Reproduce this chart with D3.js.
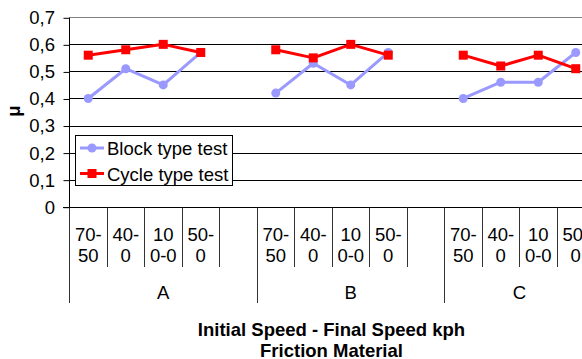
<!DOCTYPE html>
<html>
<head>
<meta charset="utf-8">
<script src="https://cdn.jsdelivr.net/npm/d3@7"></script>
<style>
  html, body { margin: 0; padding: 0; background: #fff; }
  svg { display: block; font-family: Arial, "Liberation Sans", sans-serif; }
</style>
</head>
<body>
<div id="chart"></div>
<script>
// values
const groups = ['A', 'B', 'C'];
const speedLabels = [['70-', '50'], ['40-', '0'], ['10', '0-0'], ['50-', '0']];
const blockValues = [
  [0.40, 0.51, 0.45, 0.57],
  [0.42, 0.53, 0.45, 0.57],
  [0.40, 0.46, 0.46, 0.57]
];
const cycleValues = [
  [0.56, 0.58, 0.60, 0.57],
  [0.58, 0.55, 0.60, 0.56],
  [0.56, 0.52, 0.56, 0.51]
];
const yTicks = [0, 0.1, 0.2, 0.3, 0.4, 0.5, 0.6, 0.7];
const yTickLabels = ['0', '0,1', '0,2', '0,3', '0,4', '0,5', '0,6', '0,7'];
const seriesNames = ['Block type test', 'Cycle type test'];

class FrictionChart {
  constructor(width, height) {
    this.size = { width: width, height: height };
    this.plot = { left: 69, right: 594, top: 17.3, bottom: 206.7 };
    this.color = { block: '#9999ff', cycle: '#ff0000' };
    this.font = '18.5px';
    this.svg = null;
    this.x = null;
    this.y = null;
  }

  buildKeys() {
    // every group has 4 speeds and an empty slot, the last one has no trailing gap
    let keys = [];
    groups.forEach((g, gi) => {
      speedLabels.forEach((s, si) => keys.push(`${g}|${si}`));
      if (gi < groups.length - 1) keys.push(`${g}|gap`);
    });
    return keys;
  }

  createScales() {
    this.keys = this.buildKeys();
    this.x = d3.scaleBand().domain(this.keys).range([this.plot.left, this.plot.right]);
    this.y = d3.scaleLinear().domain([0, 0.7]).range([this.plot.bottom, this.plot.top]);
  }

  drawGrid() {
    const g = this.svg.append('g');
    g.selectAll('line')
      .data(yTicks.slice(1))
      .enter()
      .append('line')
      .attr('x1', this.plot.left)
      .attr('x2', this.plot.right)
      .attr('y1', d => Math.round(this.y(d)) + 0.5)
      .attr('y2', d => Math.round(this.y(d)) + 0.5)
      .attr('stroke', d => d === 0.7 ? '#808080' : '#000')
      .attr('stroke-width', 1);
  }

  drawAxes() {
    const yAxis = d3.axisLeft(this.y)
      .tickValues(yTicks)
      .tickSize(6)
      .tickPadding(8.5)
      .tickFormat((d, i) => yTickLabels[i]);

    const ga = this.svg.append('g')
      .attr('transform', `translate(${this.plot.left + 0.5},0.5)`)
      .call(yAxis);
    ga.select('.domain').attr('d', `M0,${this.plot.top}V${this.plot.bottom}`).attr('stroke', '#000');
    ga.selectAll('.tick line').attr('stroke', '#000');
    ga.selectAll('.tick text')
      .attr('font-size', this.font)
      .attr('font-family', 'Arial, "Liberation Sans", sans-serif')
      .attr('fill', '#000');

    // baseline of the category axis
    const y0 = Math.round(this.y(0)) + 0.5;
    this.svg.append('line')
      .attr('x1', this.plot.left - 6).attr('x2', this.plot.right)
      .attr('y1', y0).attr('y2', y0)
      .attr('stroke', '#000');

    // separators between categories, longer ones between groups
    const step = this.x.step();
    const bounds = this.keys.map(k => this.x(k)).concat([this.plot.right]);
    this.svg.append('g').selectAll('line')
      .data(bounds)
      .enter()
      .append('line')
      .attr('x1', d => Math.round(d) + 0.5)
      .attr('x2', d => Math.round(d) + 0.5)
      .attr('y1', y0)
      .attr('y2', (d, i) => {
        const k = this.keys[i];
        const isGroupStart = i === this.keys.length || (k && k.endsWith('|0'));
        return isGroupStart ? 303 : 267;
      })
      .attr('stroke', '#333');

    // two-line speed labels
    const labels = this.svg.append('g')
      .attr('font-size', this.font)
      .attr('text-anchor', 'middle')
      .attr('fill', '#000');
    groups.forEach(g => {
      speedLabels.forEach((lines, si) => {
        const cx = this.x(`${g}|${si}`) + this.x.bandwidth() / 2 + 0.5;
        const t = labels.append('text');
        lines.forEach((line, li) => {
          t.append('tspan').attr('x', cx).attr('y', 240.5 + li * 21.5).text(line);
        });
      });
    });

    // group names
    groups.forEach(g => {
      const first = this.x(`${g}|0`);
      const last = this.x(`${g}|${speedLabels.length - 1}`) + step;
      const end = this.keys.includes(`${g}|gap`) ? last + step : last;
      labels.append('text')
        .attr('x', (first + end) / 2 + 0.5)
        .attr('y', 298.5)
        .text(g);
    });

    // titles
    const cx = (this.plot.left + this.plot.right) / 2;
    const title = this.svg.append('text')
      .attr('font-size', this.font)
      .attr('font-weight', 'bold')
      .attr('text-anchor', 'middle');
    title.append('tspan').attr('x', cx).attr('y', 335.5).text('Initial Speed - Final Speed kph');
    title.append('tspan').attr('x', cx).attr('y', 356.5).text('Friction Material');

    this.svg.append('text')
      .attr('transform', 'translate(20,111) rotate(-90)')
      .attr('font-size', this.font)
      .attr('font-weight', 'bold')
      .attr('text-anchor', 'middle')
      .text('\u03bc');
  }

  drawSeries(values, color, marker) {
    const cx = (g, i) => this.x(`${g}|${i}`) + this.x.bandwidth() / 2 + 0.5;
    const line = d3.line()
      .x(d => d.x)
      .y(d => this.y(d.v));

    groups.forEach((g, gi) => {
      const pts = values[gi].map((v, i) => ({ x: cx(g, i), v: v }));
      this.svg.append('path')
        .datum(pts)
        .attr('d', line)
        .attr('fill', 'none')
        .attr('stroke', color)
        .attr('stroke-width', 3)
        .attr('stroke-linejoin', 'round');

      if (marker === 'circle') {
        this.svg.append('g').selectAll('circle')
          .data(pts)
          .enter()
          .append('circle')
          .attr('cx', d => d.x)
          .attr('cy', d => this.y(d.v))
          .attr('r', 4.5)
          .attr('fill', color);
      } else {
        this.svg.append('g').selectAll('rect')
          .data(pts)
          .enter()
          .append('rect')
          .attr('x', d => d.x - 4.5)
          .attr('y', d => this.y(d.v) - 4.5)
          .attr('width', 9)
          .attr('height', 9)
          .attr('fill', color);
      }
    });
  }

  drawLegend() {
    const lg = this.svg.append('g');
    lg.append('rect')
      .attr('x', 75.5).attr('y', 135.5)
      .attr('width', 157).attr('height', 50)
      .attr('fill', '#fff')
      .attr('stroke', '#000');

    const rows = [
      { name: seriesNames[0], color: this.color.block, marker: 'circle', y: 148 },
      { name: seriesNames[1], color: this.color.cycle, marker: 'square', y: 173.5 }
    ];
    rows.forEach(r => {
      lg.append('line')
        .attr('x1', 80).attr('x2', 104)
        .attr('y1', r.y).attr('y2', r.y)
        .attr('stroke', r.color)
        .attr('stroke-width', 3);
      if (r.marker === 'circle') {
        lg.append('circle').attr('cx', 92).attr('cy', r.y).attr('r', 4.5).attr('fill', r.color);
      } else {
        lg.append('rect').attr('x', 87.5).attr('y', r.y - 4.5).attr('width', 9).attr('height', 9).attr('fill', r.color);
      }
      lg.append('text')
        .attr('x', 107)
        .attr('y', r.y + 7)
        .attr('font-size', this.font)
        .text(r.name);
    });
  }

  render(holderId) {
    this.svg = d3.select(holderId)
      .append('svg')
      .attr('width', this.size.width)
      .attr('height', this.size.height);

    this.createScales();
    this.drawGrid();
    this.drawAxes();
    this.drawSeries(blockValues, this.color.block, 'circle');
    this.drawSeries(cycleValues, this.color.cycle, 'square');
    this.drawLegend();
  }
}

new FrictionChart(582, 359).render('#chart');
</script>
</body>
</html>
